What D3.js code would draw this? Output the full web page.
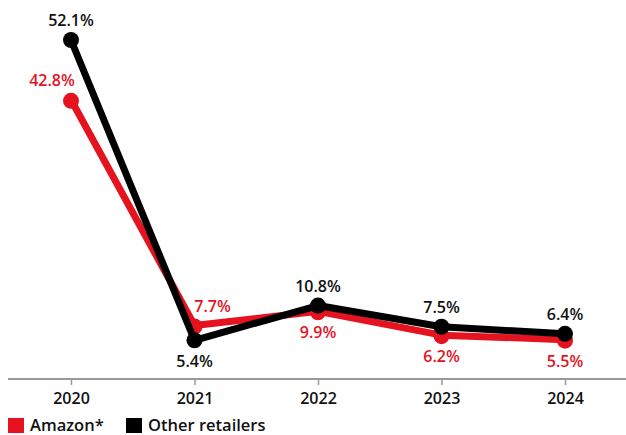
<!DOCTYPE html>
<html>
<head>
<meta charset="utf-8">
<script src="https://cdn.jsdelivr.net/npm/d3@7"></script>
<style>
  body { margin: 0; background: #fff; }
  svg { display: block; }
  text { font-family: "Open Sans", "Lato", sans-serif; }
</style>
</head>
<body>
<div id="chart"></div>
<script>
const years = ["2020", "2021", "2022", "2023", "2024"];
const amazon = [42.8, 7.7, 9.9, 6.2, 5.5];
const others = [52.1, 5.4, 10.8, 7.5, 6.4];
// where each value label sits relative to its point
const amazonPlace = ["aboveLeft", "aboveRight", "below", "below", "below"];
const othersPlace = ["above", "below", "above", "above", "above"];

const width = 626;
const height = 435;
const red = "#e5121f";
const black = "#000";

const svg = d3.select("#chart").append("svg")
   .attr("width", width)
   .attr("height", height);

const x = d3.scalePoint()
   .domain(years)
   .range([71, 565]);

const y = d3.scaleLinear()
   .domain([0, 52.1])
   .range([375, 40]);

// axis
const axisY = 379;
svg.append("line")
   .attr("x1", 8).attr("x2", width)
   .attr("y1", axisY).attr("y2", axisY)
   .attr("stroke", "#999").attr("stroke-width", 2);

const xAxis = g => g.attr("transform", `translate(0,${axisY})`)
   .call(d3.axisBottom(x).tickSize(6).tickPadding(8).tickSizeOuter(0))
   .call(g => g.select(".domain").remove())
   .call(g => g.selectAll(".tick line").attr("stroke", "#999").attr("stroke-width", 1.5))
   .call(g => g.selectAll(".tick text")
      .attr("fill", "#111")
      .style("font-size", "16px")
      .style("font-weight", 600));
svg.append("g").call(xAxis);

const line = d3.line()
   .x((d, i) => x(years[i]))
   .y(d => y(d));

const drawSeries = (values, color, dotDy) => {
   svg.append("path")
      .datum(values)
      .attr("fill", "none")
      .attr("stroke", color)
      .attr("stroke-width", 7)
      .attr("stroke-linejoin", "round")
      .attr("d", line);
   svg.append("g")
      .selectAll("circle")
      .data(values)
      .join("circle")
      .attr("cx", (d, i) => x(years[i]))
      .attr("cy", d => y(d) + dotDy)
      .attr("r", 8)
      .attr("fill", color);
};

drawSeries(amazon, red, 1);
drawSeries(others, black, 0);

const placeOffset = {
   above: [0, -14],
   below: [0, 27],
   aboveLeft: [-19, -14],
   aboveRight: [18, -13]
};

const drawLabels = (values, places, color) => {
   svg.append("g")
      .selectAll("text")
      .data(values)
      .join("text")
      .attr("x", (d, i) => x(years[i]) + placeOffset[places[i]][0])
      .attr("y", (d, i) => y(d) + placeOffset[places[i]][1])
      .attr("text-anchor", "middle")
      .attr("fill", color)
      .style("font-size", "16px")
      .style("font-weight", 600)
      .text(d => d.toFixed(1) + "%");
};

drawLabels(amazon, amazonPlace, red);
drawLabels(others, othersPlace, "#111");

// legend
const legendItems = [
   { name: "Amazon*", color: red, x: 8 },
   { name: "Other retailers", color: black, x: 126 }
];
const legend = svg.append("g");
legend.selectAll("rect")
   .data(legendItems)
   .join("rect")
   .attr("x", d => d.x)
   .attr("y", 418)
   .attr("width", 16)
   .attr("height", 15)
   .attr("fill", d => d.color);
legend.selectAll("text")
   .data(legendItems)
   .join("text")
   .attr("x", d => d.x + 22)
   .attr("y", 431)
   .attr("fill", "#111")
   .style("font-size", "16.5px")
   .style("font-weight", 600)
   .text(d => d.name);
</script>
</body>
</html>
